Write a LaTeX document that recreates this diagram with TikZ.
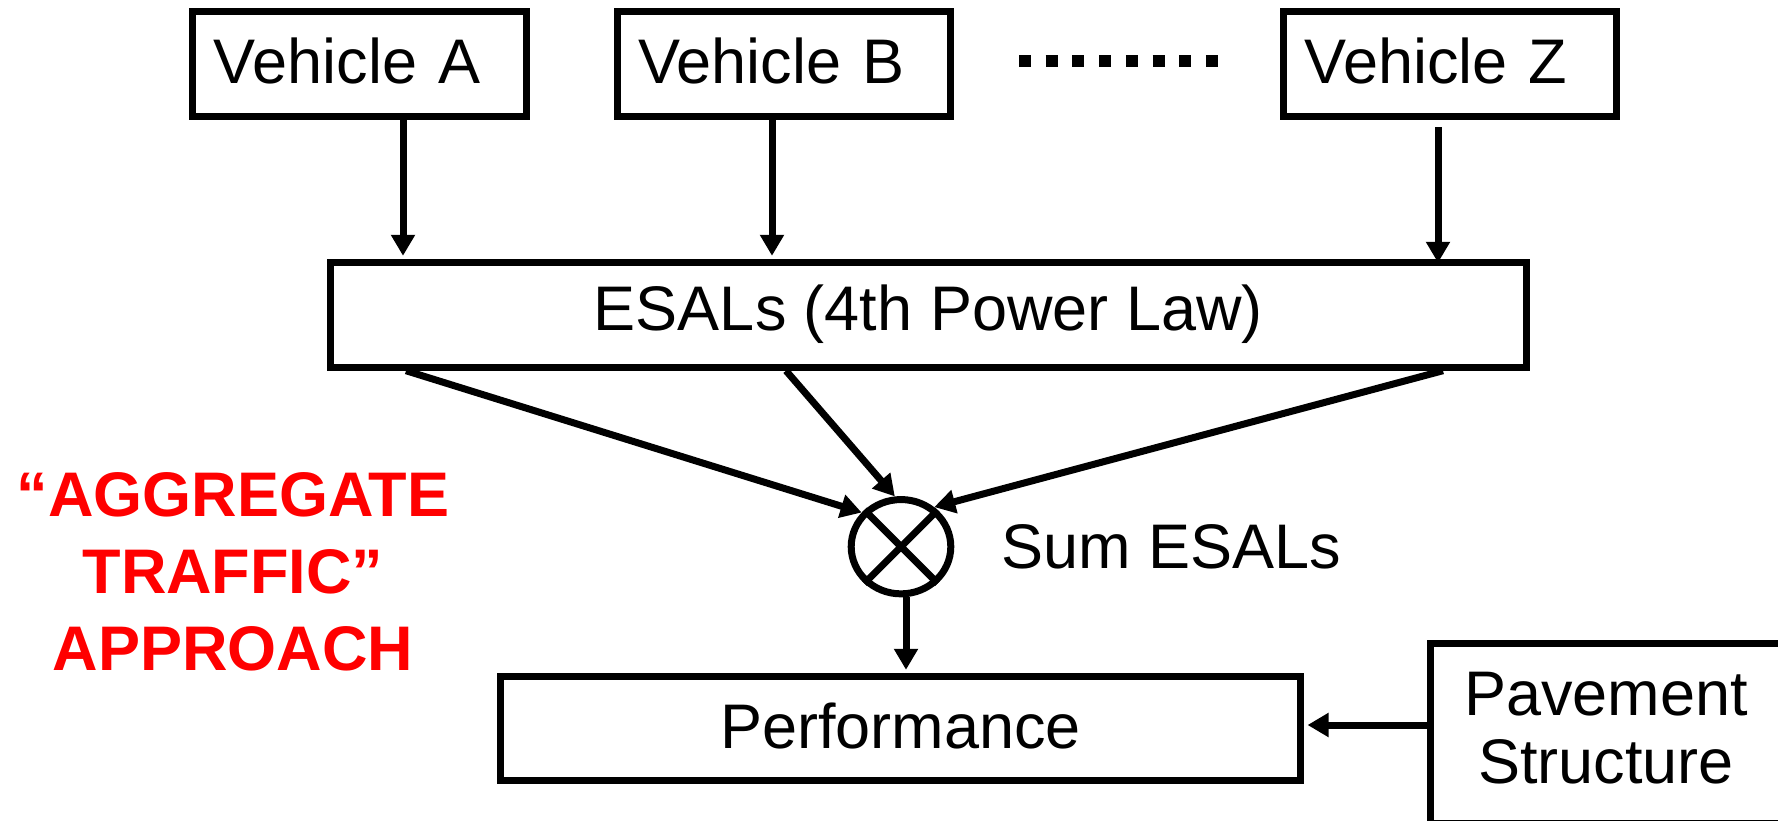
\documentclass[tikz,border=0pt]{standalone}
\usepackage{fontspec}
\setmainfont{Liberation Sans}
\usetikzlibrary{arrows.meta,shapes.geometric,calc}
\begin{document}
\begin{tikzpicture}[x=1pt,y=-1pt,
  box/.style={draw, rectangle, line width=7pt, inner sep=0pt,
    font=\fontsize{63}{68}\selectfont, text height=45pt, text depth=0pt},
  vehicle/.style={box, minimum width=333.5pt, minimum height=104.5pt,
    text width=291.5pt, align=left, inner xsep=21pt, text depth=6pt},
  arr/.style={line width=7pt, -{Triangle[length=21pt,width=23pt]}},
  link/.style={line width=7pt},
  lbl/.style={font=\fontsize{63}{68}\selectfont, inner sep=0pt},
  redlbl/.style={font=\bfseries\fontsize{63}{77}\selectfont, text=red,
    inner sep=0pt, align=center},
]
\useasboundingbox (0,0) rectangle (1778,821);
\clip (0,0) rectangle (1778,821);

% vehicle classes
\node[vehicle] (va) at (359.7,64.2) {Vehicle A};
\node[vehicle] (vb) at (784,64.2) {Vehicle B};
\node[vehicle] (vz) at (1450.2,64.2) {Vehicle Z};
\coordinate (dl) at (1019,60.8);
\coordinate (dr) at (1218,60.8);
\draw[line width=11.7pt, dash pattern=on 12pt off 14.71pt] (dl) -- (dr);

% load equivalency and summation
\node[box, minimum width=1196.3pt, minimum height=104.4pt, text depth=15pt]
  (esal) at (928.3,315) {ESALs (4th Power Law)};
\node[draw, ellipse, line width=7pt, inner sep=0pt,
  minimum width=99.6pt, minimum height=94.3pt] (sum) at (901,546.7) {};
\draw[link] (sum.45) -- (sum.225) (sum.135) -- (sum.315);
\node[lbl, anchor=base west] (sumlbl) at (1001,568) {Sum ESALs};

% performance and structure
\node[box, minimum width=799.7pt, minimum height=104pt, text depth=6pt]
  (perf) at (900.7,728.8) {Performance};
\node[box, minimum width=351.2pt, minimum height=179.7pt]
  (pave) at (1605.9,733.7) {};
\node[lbl, anchor=north, align=center] (pavetxt) at (1606,671.7) {Pavement\\Structure};

% approach title
\node[redlbl, anchor=north] (aggr) at (233,472) {“AGGREGATE\\TRAFFIC”\\APPROACH};

% connectors
\draw[arr] ($(va.south)+(43.3,0)$) -- ($(esal.north -| va.south)+(43.3,-3.5)$);
\draw[arr] ($(vb.south)+(-12,0)$) -- ($(esal.north -| vb.south)+(-12,-3.5)$);
\draw[arr] ($(vz.south)+(-12.2,7.5)$) -- ($(esal.north -| vz.south)+(-12.2,3.5)$);

\draw[arr] ($(esal.south)+(-522.3,0)$) -- (sum.139);
\draw[arr] ($(esal.south)+(-142.3,0)$) -- (sum.97);
\draw[arr] ($(esal.south)+(514.7,0)$) -- (sum.50);

\draw[arr] ($(sum.south)+(5,0)$) -- ($(perf.north -| sum.south)+(5,-3.5)$);
\draw[arr] ($(pave.west)+(0,-8.7)$) -- ($(perf.east)+(3.5,-3.8)$);
\end{tikzpicture}
\end{document}
